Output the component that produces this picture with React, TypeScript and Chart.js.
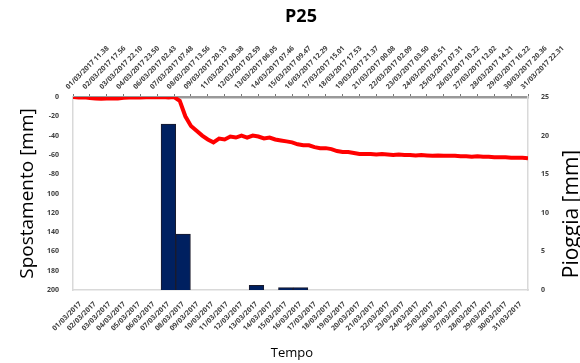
import React, { useEffect, useRef } from "react";
import { Chart, registerables } from "chart.js";

Chart.register(...registerables);

const chartTitle = "P25";
const leftAxisTitle = "Spostamento [mm]";
const rightAxisTitle = "Pioggia [mm]";
const bottomAxisTitle = "Tempo";

const dayLabels = [
  "01/03/2017", "02/03/2017", "03/03/2017", "04/03/2017", "05/03/2017", "06/03/2017",
  "07/03/2017", "08/03/2017", "09/03/2017", "10/03/2017", "11/03/2017", "12/03/2017",
  "13/03/2017", "14/03/2017", "15/03/2017", "16/03/2017", "17/03/2017", "18/03/2017",
  "19/03/2017", "20/03/2017", "21/03/2017", "22/03/2017", "23/03/2017", "24/03/2017",
  "25/03/2017", "26/03/2017", "27/03/2017", "28/03/2017", "29/03/2017", "30/03/2017",
  "31/03/2017",
];

const rainValues = [
  0, 0, 0, 0, 0, 0, 21.5, 7.25, 0, 0, 0, 0, 0.6, 0, 0.3, 0.3, 0, 0, 0, 0, 0, 0, 0, 0, 0,
  0, 0, 0, 0, 0, 0,
];

const topTickLabels = [
  "01/03/2017 11.38", "02/03/2017 17.56", "03/03/2017 22.10", "04/03/2017 23.50",
  "06/03/2017 02.43", "07/03/2017 07.48", "08/03/2017 13.56", "09/03/2017 20.13",
  "11/03/2017 00.38", "12/03/2017 02.59", "13/03/2017 06.05", "14/03/2017 07.46",
  "15/03/2017 09.47", "16/03/2017 12.29", "17/03/2017 15.01", "18/03/2017 17.53",
  "19/03/2017 21.37", "21/03/2017 00.08", "22/03/2017 02.09", "23/03/2017 03.50",
  "24/03/2017 05.51", "25/03/2017 07.31", "26/03/2017 10.22", "27/03/2017 12.02",
  "28/03/2017 14.21", "29/03/2017 16.22", "30/03/2017 20.36", "31/03/2017 22.31",
];

// displacement readings, 3 per top-axis label interval
const displacementValues = [
  0, -0.5, -0.3, -1, -1.5, -1.8, -1.5, -1.2, -1.6, -0.8,
  -0.5, -0.3, -0.6, -0.2, 0, -0.3, 0, -0.4, 0, -4,
  -20, -30, -35, -40, -44, -47, -43, -44, -41, -42,
  -40, -42, -40, -41, -43, -42, -44, -45, -46, -47,
  -49, -50, -50, -52, -53, -53, -54, -56, -57, -57,
  -58, -59, -59, -59, -59.5, -59, -59.5, -60, -59.5, -60,
  -60, -60.5, -60, -60.5, -61, -60.5, -61, -61, -61, -61.5,
  -61.5, -62, -61.5, -62, -62, -62.5, -62.5, -62.5, -63, -63,
  -63, -63.5,
];
const pointsPerTopLabel = 3;

const leftTickLabels = ["0", "-20", "-40", "-60", "-80", "100", "120", "140", "160", "180", "200"];
const rightTicks = [0, 5, 10, 15, 20, 25];

const FONT = "'Open Sans', 'DejaVu Sans', sans-serif";
const tickFont = { family: FONT, size: 7, weight: "bold" as const };

const textPlugin = {
  id: "extraText",
  afterDraw(chart: any) {
    const ctx = chart.ctx;
    ctx.save();
    ctx.fillStyle = "#000";
    ctx.textAlign = "center";
    ctx.textBaseline = "middle";
    ctx.font = `bold 18px ${FONT}`;
    ctx.fillText(chartTitle, 301, 17);
    ctx.font = `13px ${FONT}`;
    ctx.fillText(bottomAxisTitle, 292, 353);
    ctx.translate(572, 214);
    ctx.rotate(-Math.PI / 2);
    ctx.font = `21px ${FONT}`;
    ctx.fillText(rightAxisTitle, 0, 0);
    ctx.restore();
  },
};

export default function App() {
  const ref = useRef<HTMLCanvasElement>(null);
  useEffect(() => {
    if (!ref.current) return;
    const chart = new Chart(ref.current, {
      data: {
        labels: dayLabels,
        datasets: [
          {
            type: "line",
            data: displacementValues.map((v, i) => ({ x: i, y: v })),
            xAxisID: "xTop",
            yAxisID: "yLeft",
            borderColor: "#ff0000",
            borderWidth: 4,
            pointRadius: 0,
            tension: 0,
            order: 0,
          } as any,
          {
            type: "bar",
            data: rainValues,
            xAxisID: "x",
            yAxisID: "yRight",
            backgroundColor: "#002060",
            borderColor: "#1b1b2b",
            borderWidth: 1,
            barPercentage: 1,
            categoryPercentage: 1,
            grouped: false,
            order: 1,
          } as any,
        ],
      },
      options: {
        responsive: false,
        animation: false,
        layout: { padding: 0 },
        datasets: { bar: { barPercentage: 1, categoryPercentage: 1, grouped: false } },
        plugins: { legend: { display: false }, tooltip: { enabled: false }, title: { display: false } },
        scales: {
          x: {
            type: "category",
            position: "bottom",
            offset: true,
            grid: { display: false },
            border: { display: true, color: "#d9d9d9", width: 1.5 },
            ticks: {
              autoSkip: false,
              maxRotation: 45,
              minRotation: 45,
              font: tickFont,
              color: "#404040",
              padding: 2,
            },
            afterFit: (s: any) => {
              s.height = 73;
            },
          },
          xTop: {
            type: "linear",
            position: "top",
            min: 0,
            max: displacementValues.length - 1,
            grid: { display: true, drawOnChartArea: false, tickLength: 3, color: "#777" },
            border: { display: true, color: "#999", width: 2.5 },
            ticks: {
              stepSize: pointsPerTopLabel,
              autoSkip: false,
              maxRotation: 45,
              minRotation: 45,
              font: tickFont,
              color: "#404040",
              padding: 3,
              callback: (v: any) => topTickLabels[Math.round(Number(v) / pointsPerTopLabel)] ?? "",
            },
            afterFit: (s: any) => {
              s.height = 97;
            },
          },
          yLeft: {
            type: "linear",
            position: "left",
            min: -200,
            max: 0,
            grid: { display: false },
            border: { display: true, color: "#d9d9d9", width: 1.5 },
            ticks: {
              stepSize: 20,
              font: tickFont,
              color: "#404040",
              padding: 6,
              callback: (v: any) => leftTickLabels[Math.round(-Number(v) / 20)] ?? "",
            },
            title: {
              display: true,
              text: leftAxisTitle,
              font: { family: FONT, size: 19 },
              color: "#000",
              padding: { top: 16, bottom: 0 },
            },
            afterFit: (s: any) => {
              s.width = 73;
            },
          },
          yRight: {
            type: "linear",
            position: "right",
            min: rightTicks[0],
            max: rightTicks[rightTicks.length - 1],
            grid: { display: false },
            border: { display: true, color: "#d9d9d9", width: 1.5 },
            ticks: {
              stepSize: 5,
              font: tickFont,
              color: "#404040",
              padding: 5,
            },
            afterFit: (s: any) => {
              s.width = 52;
            },
          },
        },
      } as any,
      plugins: [textPlugin],
    });
    return () => chart.destroy();
  }, []);
  return (
    <div style={{ position: "absolute", left: 0, top: 0, width: 580, height: 363, background: "#fff" }}>
      <canvas ref={ref} width={580} height={363} style={{ display: "block" }} />
    </div>
  );
}
